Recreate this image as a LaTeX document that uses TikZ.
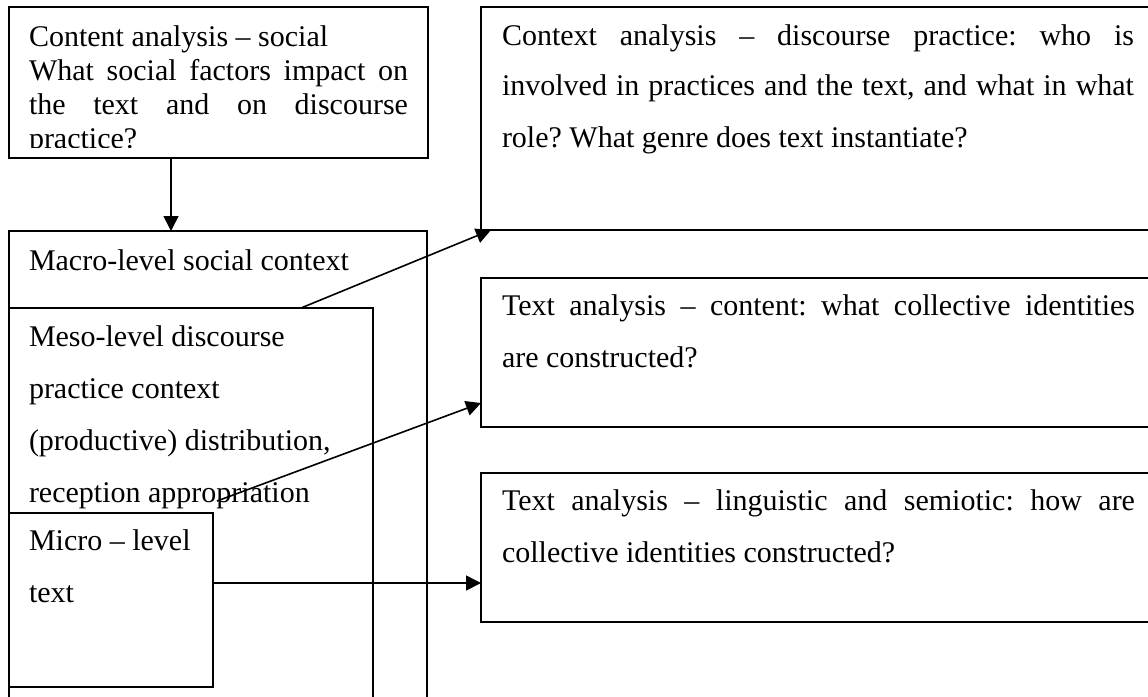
\documentclass[tikz,border=0pt]{standalone}
\usepackage{fontspec}
\setmainfont{Liberation Serif}
\usetikzlibrary{arrows.meta}
\frenchspacing

% one justified line of a given width
\newcommand\jline[1]{\makebox[\linewidth][s]{#1}}
% text block: width, baseline skip, lines
\newcommand\tblock[3]{\parbox[t]{#1}{\fontsize{30pt}{#2}\selectfont #3}}

\begin{document}
\begin{tikzpicture}[x=1pt,y=-1pt,
  box/.style={draw, line width=1.6pt, anchor=north west, inner sep=0pt, outer sep=0pt},
  label/.style={anchor=base west, inner sep=0pt, outer sep=0pt, align=left},
  arr/.style={-{Triangle[length=15pt,width=15pt]}, line width=1.6pt}
]
\useasboundingbox (0,0) rectangle (1148,696);
\clip (0,0) rectangle (1148,696);

% left column: nested levels of context
\node[box, minimum width=419pt, minimum height=151pt] (social) at (9,7) {};
\node[box, minimum width=418pt, minimum height=520pt] (macro) at (9,231) {};
\node[box, minimum width=364pt, minimum height=450pt] (meso) at (9,308) {};
\node[box, minimum width=204pt, minimum height=174pt] (micro) at (9,513) {};

% right column: analysis questions
\node[box, minimum width=720pt, minimum height=223pt] (ctx) at (481,7) {};
\node[box, minimum width=720pt, minimum height=149pt] (cnt) at (481,278) {};
\node[box, minimum width=720pt, minimum height=149pt] (ling) at (481,473) {};

% texts
\begin{scope}
\clip (9,7) rectangle (428,147);
\node[label] (socialtext) at (29,46) {\tblock{379pt}{34pt}{%
  Content analysis -- social\\
  \jline{What social factors impact on}\\
  \jline{the text and on discourse}\\
  practice?}};
\end{scope}

\node[label] (macrotext) at (29,270) {\tblock{390pt}{52pt}{Macro-level social context}};
\node[label] (mesotext) at (29,346) {\tblock{340pt}{52pt}{%
  Meso-level discourse\\
  practice context\\
  (productive) distribution,\\
  reception appropriation}};
\node[label] (microtext) at (29,550) {\tblock{180pt}{52pt}{%
  Micro -- level\\
  text}};

\node[label] (ctxtext) at (502,45) {\tblock{632pt}{51pt}{%
  \jline{Context analysis -- discourse practice: who is}\\
  \jline{involved in practices and the text, and what in what}\\
  role? What genre does text instantiate?}};
\node[label] (cnttext) at (502,315) {\tblock{633pt}{52pt}{%
  \jline{Text analysis -- content: what collective identities}\\
  are constructed?}};
\node[label] (lingtext) at (502,510) {\tblock{633pt}{52pt}{%
  \jline{Text analysis -- linguistic and semiotic: how are}\\
  collective identities constructed?}};

% connectors
\coordinate (mesostart) at (217,501);
\draw[arr] ([xshift=162pt]social.south west) -- ([xshift=162pt]social.south west |- macro.north);
\draw[arr] ([xshift=292pt]meso.north west) -- ([xshift=10pt]ctx.south west);
\draw[arr] (mesostart) -- ([yshift=-125pt]cnt.north west);
\draw[arr] ([yshift=-70pt]micro.north east) -- ([yshift=-70pt]micro.north east -| ling.west);
\end{tikzpicture}
\end{document}
